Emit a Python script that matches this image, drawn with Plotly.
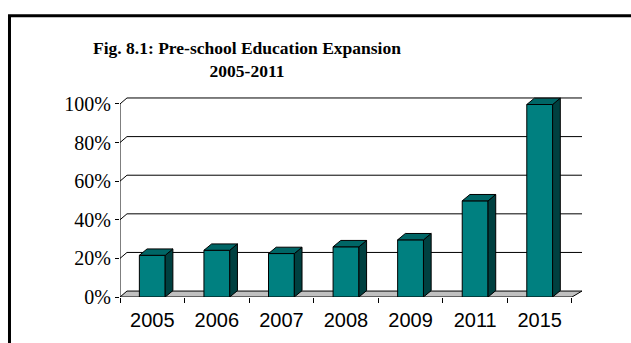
import plotly.graph_objects as go

# ---- data ----
years = ["2005", "2006", "2007", "2008", "2009", "2011", "2015"]
values = [21.6, 24.2, 22.5, 26.0, 29.6, 49.8, 99.7]
y_ticks = [0, 20, 40, 60, 80, 100]
y_tick_text = [f"{v}%" for v in y_ticks]
title_text = "<b>Fig. 8.1: Pre-school Education Expansion<br>2005-2011</b>"

# ---- style / geometry (data units) ----
bar_width = 0.4
bar_dx, bar_dy = 0.119, 3.3          # bar depth offset
wall_dx_l, wall_dx_r, wall_dy = 0.108, 0.155, 3.08
front_col, side_col, top_col = "#008080", "#004040", "#006666"

xs = list(range(len(years)))
x_left, x_right = -0.5, len(years) - 0.5

fig = go.Figure()

shapes = []
# floor
shapes.append(dict(
    type="path", xref="x", yref="y", layer="below",
    path=f"M {x_left},0 L {x_right},0 L {x_right + wall_dx_r},{wall_dy} L {x_left + wall_dx_l},{wall_dy} Z",
    fillcolor="#C0C0C0", line=dict(color="black", width=1)))
# back wall gridlines
for v in y_ticks[1:]:
    shapes.append(dict(
        type="path", xref="x", yref="y", layer="below",
        path=f"M {x_left},{v} L {x_left + wall_dx_l},{v + wall_dy} L {x_right + wall_dx_r},{v + wall_dy}",
        line=dict(color="black", width=1)))
# value axis line
shapes.append(dict(type="line", xref="x", yref="y", layer="below",
                   x0=x_left, x1=x_left, y0=y_ticks[0], y1=y_ticks[-1],
                   line=dict(color="black", width=1)))
# outer chart border
shapes.append(dict(type="rect", xref="paper", yref="paper",
                   x0=-0.2392, x1=1.5, y0=-0.5, y1=1.406,
                   line=dict(color="black", width=3), fillcolor="rgba(0,0,0,0)", layer="above"))

# front faces
fig.add_trace(go.Bar(x=xs, y=values, width=bar_width,
                     marker=dict(color=front_col, line=dict(color="black", width=1)),
                     hoverinfo="skip"))

hw = bar_width / 2
for xi, v in zip(xs, values):
    # side face
    fig.add_trace(go.Scatter(
        x=[xi + hw, xi + hw + bar_dx, xi + hw + bar_dx, xi + hw, xi + hw],
        y=[0, bar_dy, v + bar_dy, v, 0],
        mode="lines", fill="toself", fillcolor=side_col,
        line=dict(color="black", width=1), hoverinfo="skip"))
    # top face
    fig.add_trace(go.Scatter(
        x=[xi - hw, xi + hw, xi + hw + bar_dx, xi - hw + bar_dx, xi - hw],
        y=[v, v, v + bar_dy, v + bar_dy, v],
        mode="lines", fill="toself", fillcolor=top_col,
        line=dict(color="black", width=1), hoverinfo="skip"))

fig.update_layout(
    width=631, height=343,
    margin=dict(l=120, r=49, t=97, b=44, pad=0),
    paper_bgcolor="white", plot_bgcolor="white",
    showlegend=False,
    shapes=shapes,
    title=dict(text=title_text, x=247 / 631, xanchor="center",
               y=1 - 54 / 343, yanchor="top", yref="container",
               font=dict(family="Liberation Serif, Times New Roman, serif", size=17.5, color="black")),
    xaxis=dict(range=[x_left, x_right + wall_dx_r], tickmode="array", tickvals=xs, ticktext=years,
               ticks="", showgrid=False, zeroline=False, showline=False, ticklabelstandoff=9,
               tickfont=dict(family="Liberation Sans, Arial, sans-serif", size=20, color="black"),
               minor=dict(tickmode="array", tickvals=[x_left + i for i in range(len(years) + 1)],
                          ticks="outside", ticklen=5, tickcolor="black", tickwidth=1, showgrid=False)),
    yaxis=dict(range=[0, 202 / 1.95], tickmode="array", tickvals=y_ticks, ticktext=y_tick_text,
               ticks="outside", ticklen=4, tickcolor="black", tickwidth=1,
               showgrid=False, zeroline=False, showline=False,
               tickfont=dict(family="Liberation Serif, Times New Roman, serif", size=20, color="black")),
)

fig.write_html("out.html")
